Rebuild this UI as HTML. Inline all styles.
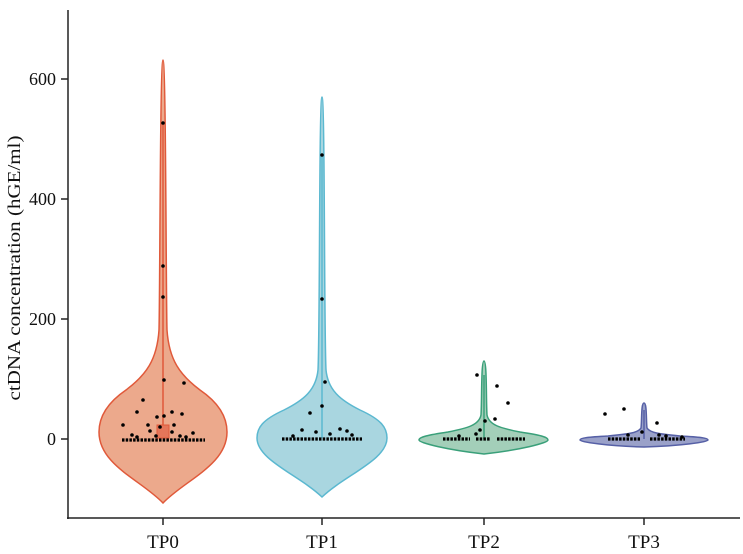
<!DOCTYPE html>
<html><head><meta charset="utf-8"><style>body{margin:0;background:#fff}svg{display:block}</style></head><body>
<svg width="743" height="554" viewBox="0 0 743 554" xmlns="http://www.w3.org/2000/svg" font-family="Liberation Serif, serif">
<line x1="68" y1="10" x2="68" y2="519" stroke="#222" stroke-width="1.5"/>
<line x1="67" y1="518" x2="740" y2="518" stroke="#222" stroke-width="1.5"/>
<g stroke="#222" stroke-width="1.5">
<line x1="61" y1="79" x2="68" y2="79"/><line x1="61" y1="199" x2="68" y2="199"/><line x1="61" y1="319" x2="68" y2="319"/><line x1="61" y1="439" x2="68" y2="439"/>
<line x1="163" y1="518" x2="163" y2="525"/><line x1="322" y1="518" x2="322" y2="525"/><line x1="484" y1="518" x2="484" y2="525"/><line x1="644" y1="518" x2="644" y2="525"/>
</g>
<g font-size="18" fill="#111" text-anchor="end">
<text x="56" y="85">600</text><text x="56" y="205">400</text><text x="56" y="325">200</text><text x="56" y="445">0</text>
</g>
<g font-size="19" fill="#111" text-anchor="middle">
<text x="163" y="548">TP0</text><text x="322" y="548">TP1</text><text x="484" y="548">TP2</text><text x="644" y="548">TP3</text>
</g>
<text transform="translate(20,268) rotate(-90)" font-size="18" fill="#111" text-anchor="middle" textLength="265" lengthAdjust="spacingAndGlyphs">ctDNA concentration (hGE/ml)</text>

<path d="M163,60 C166,60 166,300 167,330 C169,360 180,375 200,390 C222,405 227,420 227,432 C227,465 185,480 163,503 C141,480 99,465 99,432 C99,420 104,405 126,390 C146,375 157,360 159,330 C160,300 160,60 163,60 Z" fill="#eca98c" stroke="#e0593a" stroke-width="1.5"/>
<line x1="163" y1="123" x2="163" y2="425" stroke="#e0593a" stroke-width="1.5"/>
<rect x="157" y="425" width="12" height="13" fill="#e5765a" stroke="#e0593a"/>
<path d="M322,97 C325,97 324,330 326,370 C328,390 340,400 360,410 C382,420 387,428 387,438 C387,460 345,475 322,497 C299,475 257,460 257,438 C257,428 262,420 284,410 C304,400 316,390 318,370 C320,330 319,97 322,97 Z" fill="#a9d6e0" stroke="#5bb8d0" stroke-width="1.5"/>
<line x1="322" y1="155" x2="322" y2="438" stroke="#5bb8d0" stroke-width="1.5"/>
<path d="M484,361 C487,361 486,400 487,415 C489,425 500,428 520,432 C540,435 548,437 548,440 C548,443 520,450 484,454 C448,450 419,443 419,440 C419,437 428,435 448,432 C468,428 479,425 481,415 C482,400 481,361 484,361 Z" fill="#a3cfb9" stroke="#3aa07a" stroke-width="1.5"/>
<line x1="484" y1="375" x2="484" y2="439" stroke="#3aa07a" stroke-width="1.5"/>
<path d="M644,403 C647,403 646,420 647,428 C650,433 660,434 680,436 C700,437 708,438 708,440 C708,442 680,446 644,447 C608,446 580,442 580,440 C580,438 588,437 608,436 C628,434 638,433 641,428 C642,420 641,403 644,403 Z" fill="#9aa1c9" stroke="#5660a6" stroke-width="1.5"/>
<line x1="644" y1="410" x2="644" y2="439" stroke="#5660a6" stroke-width="1.5"/>

<g fill="#000">
<circle cx="163" cy="123" r="1.8"/><circle cx="163" cy="266" r="1.8"/><circle cx="163" cy="297" r="1.8"/>
<circle cx="164" cy="380" r="1.8"/><circle cx="184" cy="383" r="1.8"/><circle cx="143" cy="400" r="1.8"/><circle cx="137" cy="412" r="1.8"/><circle cx="172" cy="412" r="1.8"/><circle cx="182" cy="414" r="1.8"/><circle cx="164" cy="416" r="1.8"/><circle cx="157" cy="417" r="1.8"/><circle cx="123" cy="425" r="1.8"/><circle cx="148" cy="425" r="1.8"/><circle cx="174" cy="425" r="1.8"/><circle cx="160" cy="427" r="1.8"/><circle cx="150" cy="431" r="1.8"/><circle cx="172" cy="432" r="1.8"/><circle cx="156" cy="436" r="1.8"/><circle cx="180" cy="436" r="1.8"/><circle cx="193" cy="433" r="1.8"/><circle cx="137" cy="437" r="1.8"/><circle cx="132" cy="435" r="1.8"/><circle cx="186" cy="437" r="1.8"/>
</g>
<g stroke="#000" stroke-width="3.2" stroke-dasharray="2.5 1.2"><line x1="122" y1="440" x2="205" y2="440"/>
<line x1="282" y1="439" x2="362" y2="439"/><line x1="443" y1="439" x2="470" y2="439"/><line x1="476" y1="439" x2="490" y2="439"/><line x1="497" y1="439" x2="525" y2="439"/><line x1="608" y1="439" x2="640" y2="439"/><line x1="650" y1="439" x2="685" y2="439"/></g>
<g fill="#000">
<circle cx="322" cy="155" r="1.8"/><circle cx="322" cy="299" r="1.8"/><circle cx="325" cy="382" r="1.8"/><circle cx="322" cy="406" r="1.8"/><circle cx="310" cy="413" r="1.8"/><circle cx="302" cy="430" r="1.8"/><circle cx="316" cy="432" r="1.8"/><circle cx="330" cy="434" r="1.8"/><circle cx="340" cy="429" r="1.8"/><circle cx="347" cy="431" r="1.8"/><circle cx="293" cy="436" r="1.8"/><circle cx="352" cy="435" r="1.8"/>
<circle cx="477" cy="375" r="1.8"/><circle cx="497" cy="386" r="1.8"/><circle cx="508" cy="403" r="1.8"/><circle cx="495" cy="419" r="1.8"/><circle cx="485" cy="421" r="1.8"/><circle cx="480" cy="430" r="1.8"/><circle cx="459" cy="436" r="1.8"/><circle cx="476" cy="434" r="1.8"/>
<circle cx="605" cy="414" r="1.8"/><circle cx="624" cy="409" r="1.8"/><circle cx="657" cy="423" r="1.8"/><circle cx="642" cy="432" r="1.8"/><circle cx="628" cy="435" r="1.8"/><circle cx="659" cy="435" r="1.8"/><circle cx="666" cy="436" r="1.8"/><circle cx="682" cy="437" r="1.8"/>
</g>
</svg>
</body></html>
